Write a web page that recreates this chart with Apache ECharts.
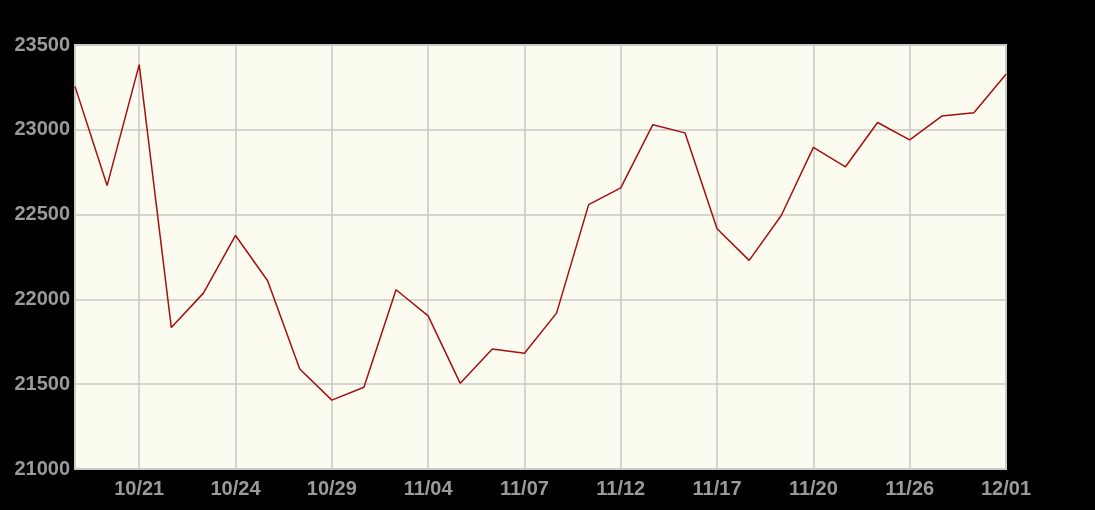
<!DOCTYPE html>
<html>
<head>
<meta charset="utf-8">
<title>Price chart</title>
<script src="https://cdn.jsdelivr.net/npm/echarts@6/dist/echarts.min.js"></script>
<style>
  html, body { margin: 0; padding: 0; background: #000; }
  #chart { width: 1095px; height: 510px; }
</style>
</head>
<body>
<div id="chart"></div>
<script>
  // dates (only every third one gets a label)
  var dates = [
    '10/19', '10/20', '10/21', '10/22', '10/23', '10/24', '10/26', '10/27', '10/29', '10/31',
    '11/02', '11/04', '11/05', '11/06', '11/07', '11/09', '11/10', '11/12', '11/14', '11/15',
    '11/17', '11/18', '11/19', '11/20', '11/22', '11/24', '11/26', '11/28', '11/29', '12/01'
  ];
  var values = [
    23256, 22671, 23384, 21834, 22037, 22377, 22110, 21590, 21406, 21482,
    22057, 21903, 21505, 21708, 21683, 21919, 22559, 22658, 23030, 22982,
    22417, 22230, 22495, 22896, 22782, 23043, 22941, 23081, 23100, 23327
  ];
  var yMin = 21000;
  var yMax = 23500;
  var yStep = 500;

  var labelColor = '#9a9a9a';
  var gridColor = '#c8c8c8';
  var showEvery3 = function (index) { return index % 3 === 2; };

  var chart = echarts.init(document.getElementById('chart'));
  chart.setOption({
    backgroundColor: '#000000',
    animation: false,
    grid: {
      left: 75,
      right: 89,
      top: 45,
      bottom: 41,
      show: true,
      backgroundColor: '#fbfbef',
      borderColor: '#cccccc',
      borderWidth: 2
    },
    xAxis: {
      type: 'category',
      boundaryGap: false,
      data: dates,
      axisLine: { show: false },
      axisTick: { show: false },
      axisLabel: {
        interval: showEvery3,
        color: labelColor,
        fontSize: 20,
        fontWeight: 'bold',
        fontFamily: 'Liberation Sans, Arial, sans-serif',
        margin: 10
      },
      splitLine: {
        show: true,
        interval: showEvery3,
        lineStyle: { color: gridColor, width: 1.5 }
      }
    },
    yAxis: {
      type: 'value',
      min: yMin,
      max: yMax,
      interval: yStep,
      axisLine: { show: false },
      axisTick: { show: false },
      axisLabel: {
        color: labelColor,
        fontSize: 20,
        fontWeight: 'bold',
        fontFamily: 'Liberation Sans, Arial, sans-serif',
        margin: 5,
        formatter: function (v) { return String(v); }
      },
      splitLine: {
        lineStyle: { color: gridColor, width: 1.5 }
      }
    },
    series: [{
      type: 'line',
      data: values,
      showSymbol: false,
      lineStyle: { color: '#a50f0f', width: 1.5 }
    }]
  });
</script>
</body>
</html>
